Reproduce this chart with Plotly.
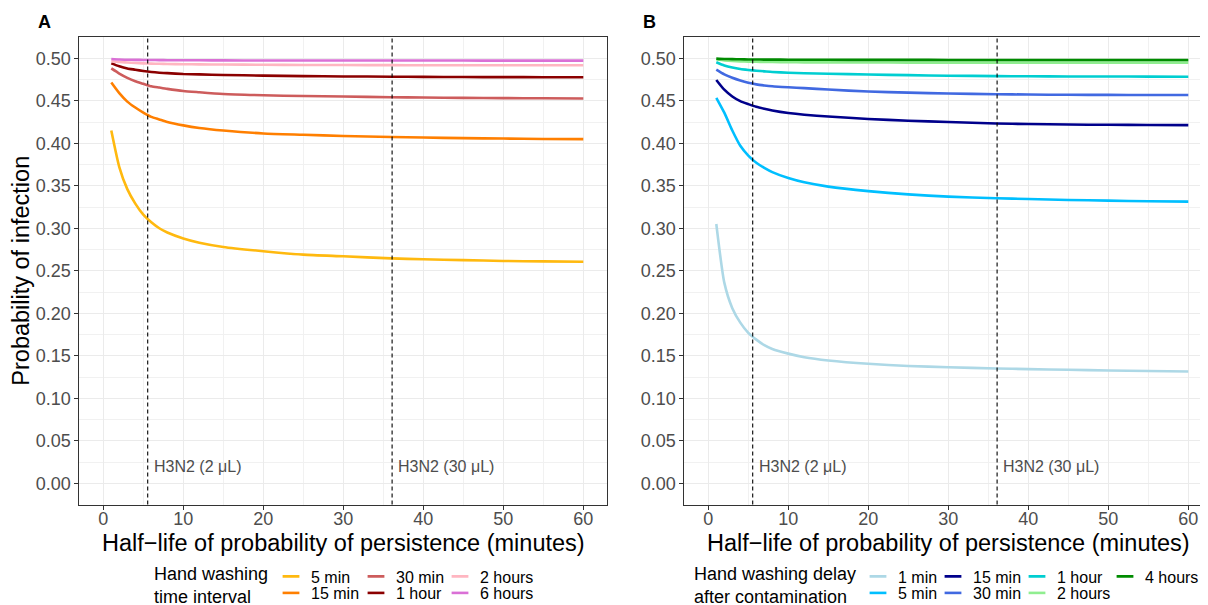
import plotly.graph_objects as go

# ---------------- data ----------------
half_life = [1, 2, 3, 4, 5, 6, 7, 8, 10, 12, 15, 20, 25, 30, 36, 40, 45, 50, 55, 60]

# Panel A: hand washing time interval
interval_labels = ["5 min", "15 min", "30 min", "1 hour", "2 hours", "6 hours"]
p_int_5min = [0.415, 0.372, 0.346, 0.329, 0.316, 0.307, 0.300, 0.295, 0.288, 0.283, 0.278, 0.273, 0.269, 0.267, 0.2645, 0.2635, 0.2625, 0.2615, 0.261, 0.2605]
p_int_15min = [0.4715, 0.459, 0.449, 0.442, 0.436, 0.431, 0.428, 0.425, 0.421, 0.418, 0.415, 0.4115, 0.410, 0.4085, 0.4073, 0.4067, 0.406, 0.4055, 0.405, 0.4048]
p_int_30min = [0.488, 0.482, 0.477, 0.473, 0.470, 0.467, 0.4655, 0.464, 0.4615, 0.460, 0.458, 0.4565, 0.4555, 0.455, 0.4542, 0.4538, 0.4534, 0.4531, 0.4529, 0.4527]
p_int_1h = [0.494, 0.4905, 0.488, 0.4865, 0.485, 0.4838, 0.483, 0.4825, 0.4815, 0.481, 0.4803, 0.4796, 0.479, 0.4786, 0.4783, 0.4781, 0.4779, 0.4778, 0.4777, 0.4776]
p_int_2h = [0.4965, 0.4955, 0.495, 0.4945, 0.494, 0.4937, 0.4935, 0.4933, 0.493, 0.4928, 0.4926, 0.4923, 0.4921, 0.492, 0.4919, 0.4918, 0.4918, 0.4917, 0.4917, 0.4917]
p_int_6h = [0.4992, 0.4986, 0.4983, 0.4981, 0.498, 0.4979, 0.4978, 0.4977, 0.4976, 0.4976, 0.4975, 0.4974, 0.4974, 0.4973, 0.4973, 0.4973, 0.4973, 0.4972, 0.4972, 0.4972]
interval_colors = ["#FFB90F", "#FF7F00", "#CD5C5C", "#8B0000", "#FFB6C1", "#DA70D6"]

# Panel B: hand washing delay after contamination
delay_labels = ["1 min", "5 min", "15 min", "30 min", "1 hour", "2 hours", "4 hours"]
p_del_1min = [0.305, 0.236, 0.206, 0.189, 0.177, 0.169, 0.1625, 0.158, 0.1525, 0.1483, 0.1445, 0.1405, 0.138, 0.1365, 0.135, 0.1343, 0.1335, 0.1327, 0.132, 0.1315]
p_del_5min = [0.4535, 0.436, 0.415, 0.397, 0.3855, 0.377, 0.371, 0.366, 0.359, 0.354, 0.349, 0.3437, 0.3398, 0.3372, 0.3353, 0.3344, 0.3333, 0.3325, 0.3318, 0.3313]
p_del_15min = [0.4745, 0.463, 0.455, 0.4495, 0.446, 0.4428, 0.4405, 0.4385, 0.4355, 0.4335, 0.4315, 0.4285, 0.4265, 0.425, 0.4233, 0.4226, 0.422, 0.4217, 0.4215, 0.4213]
p_del_30min = [0.4866, 0.481, 0.477, 0.4738, 0.4712, 0.4693, 0.468, 0.467, 0.4658, 0.4648, 0.4632, 0.4608, 0.4595, 0.4585, 0.4577, 0.4573, 0.457, 0.4569, 0.4568, 0.4567]
p_del_1h = [0.4953, 0.4915, 0.489, 0.4873, 0.4862, 0.4853, 0.4846, 0.4839, 0.483, 0.4824, 0.4818, 0.4808, 0.4801, 0.4795, 0.479, 0.4788, 0.4786, 0.4785, 0.4784, 0.4783]
p_del_2h = [0.4985, 0.4975, 0.4968, 0.4963, 0.496, 0.4958, 0.4956, 0.4955, 0.4953, 0.4952, 0.4951, 0.495, 0.4949, 0.4949, 0.4948, 0.4948, 0.4948, 0.4948, 0.4948, 0.4948]
p_del_4h = [0.4996, 0.4992, 0.499, 0.4988, 0.4986, 0.4985, 0.4984, 0.4984, 0.4983, 0.4982, 0.4982, 0.4981, 0.4981, 0.498, 0.498, 0.498, 0.498, 0.498, 0.498, 0.498]
delay_colors = ["#ADD8E6", "#00BFFF", "#00008B", "#4169E1", "#00CED1", "#90EE90", "#008B00"]

h3n2_half_life = [5.55, 36.1]
h3n2_labels = ["H3N2 (2 \u03bcL)", "H3N2 (30 \u03bcL)"]

y_ticks = [0.0, 0.05, 0.10, 0.15, 0.20, 0.25, 0.30, 0.35, 0.40, 0.45, 0.50]
x_ticks = [0, 10, 20, 30, 40, 50, 60]

x_title = "Half\u2212life of probability of persistence (minutes)"
y_title = "Probability of infection"
legend_titles = ["Hand washing<br>time interval", "Hand washing delay<br>after contamination"]

# ---------------- layout helpers ----------------
W, H = 1208, 605
OFF = 8  # page body margin offset (browser px)
FONT = "Liberation Sans, Arial, Helvetica, sans-serif"
px = lambda v: (v - OFF) / W
py = lambda v: 1 - (v - OFF) / H

interval_series = [p_int_5min, p_int_15min, p_int_30min, p_int_1h, p_int_2h, p_int_6h]
delay_series = [p_del_1min, p_del_5min, p_del_15min, p_del_30min, p_del_1h, p_del_2h, p_del_4h]

# legend text positions (px, target picture coords): columns, rows (column-major fill)
rows = [576.5, 593.0]
int_cols = [311, 396, 480]
del_cols = [898, 973, 1057, 1145]

fig = go.Figure()
legend_layouts = {}
n = 1

def add_panel(series, labels, colors, cols, xa, ya):
    global n
    for i, (vals, lab, col) in enumerate(zip(series, labels, colors)):
        n += 1
        lname = f"legend{n}"
        # the curve itself
        fig.add_trace(go.Scatter(
            x=half_life, y=vals, mode="lines", name=lab,
            line=dict(color=col, width=2.6, shape="spline", smoothing=0.6),
            xaxis=xa, yaxis=ya, showlegend=False, hoverinfo="skip",
        ))
        # legend key (short line symbol, no data points)
        fig.add_trace(go.Scatter(
            x=[None], y=[None], mode="markers", name=lab,
            marker=dict(symbol="line-ew", size=12, color=col, line=dict(color=col, width=2.6)),
            xaxis=xa, yaxis=ya, legend=lname, showlegend=True, hoverinfo="skip",
        ))
        cx = cols[i // 2]
        cy = rows[i % 2]
        legend_layouts[lname] = dict(
            x=px(cx - 40), y=py(cy), xanchor="left", yanchor="middle",
            bgcolor="rgba(0,0,0,0)", borderwidth=0, itemwidth=30,
            font=dict(family=FONT, size=16, color="black"),
        )

add_panel(interval_series, interval_labels, interval_colors, int_cols, "x", "y")
add_panel(delay_series, delay_labels, delay_colors, del_cols, "x2", "y2")

axis_common = dict(
    showgrid=True, gridcolor="#EBEBEB", gridwidth=1.1,
    zeroline=False, showline=True, mirror=True, linecolor="#333333", linewidth=1,
    ticks="outside", ticklen=4, tickcolor="#333333", tickwidth=1,
    tickfont=dict(family=FONT, size=18, color="#4D4D4D"),
)

ydom = [py(504.5), py(37)]
xaxis_cfg = lambda dom, rng: dict(
    axis_common, domain=dom, range=rng, tickvals=x_ticks, ticklabelstandoff=-6,
    minor=dict(dtick=5, tick0=0, showgrid=True, gridcolor="#F1F1F1", gridwidth=0.6),
)
yaxis_cfg = lambda anchor, title: dict(
    axis_common, domain=ydom, range=[-0.025, 0.525], tickvals=y_ticks, tickformat=".2f",
    anchor=anchor,
    minor=dict(dtick=0.025, tick0=0, showgrid=True, gridcolor="#F1F1F1", gridwidth=0.6),
    title=dict(text=title, font=dict(family=FONT, size=23.5, color="black"), standoff=0),
)

fig.update_layout(
    width=W, height=H,
    margin=dict(l=0, r=0, t=0, b=0, autoexpand=False),
    paper_bgcolor="white", plot_bgcolor="white",
    font=dict(family=FONT),
    showlegend=True,
    xaxis=dict(xaxis_cfg([px(79.3), px(607.3)], [-3, 63]), anchor="y"),
    xaxis2=dict(xaxis_cfg([px(684.3), px(1212.3)], [-3, 63]), anchor="y2"),
    yaxis=yaxis_cfg("x", y_title),
    yaxis2=yaxis_cfg("x2", None),
    **legend_layouts,
)

# vertical reference lines and labels
shapes = []
annotations = []
for xa, ya in [("x", "y"), ("x2", "y2")]:
    for hv, lab in zip(h3n2_half_life, h3n2_labels):
        shapes.append(dict(type="line", xref=xa, yref=f"{ya} domain", x0=hv, x1=hv, y0=0, y1=1,
                           line=dict(color="black", width=1.1, dash="4px,3px")))
        annotations.append(dict(x=hv, y=0.02, xref=xa, yref=ya, text=lab, showarrow=False,
                                xanchor="left", yanchor="middle", xshift=4,
                                font=dict(family=FONT, size=16, color="#4D4D4D")))
    # x axis title, centred under each panel
    annotations.append(dict(x=0.5, y=py(542.5), xref=f"{xa} domain", yref="paper", text=x_title,
                            showarrow=False, xanchor="center", yanchor="middle", borderpad=0,
                            font=dict(family=FONT, size=23.5, color="black")))

# panel tags
for tag, xp in [("A", 36), ("B", 641)]:
    annotations.append(dict(x=px(xp), y=py(22), xref="paper", yref="paper", text=f"<b>{tag}</b>",
                            showarrow=False, xanchor="left", yanchor="middle",
                            font=dict(family=FONT, size=18, color="black")))

# legend titles (two lines each)
for txt, xp in zip(legend_titles, [153, 693]):
    annotations.append(dict(x=px(xp), y=py(585), xref="paper", yref="paper", text=txt,
                            showarrow=False, xanchor="left", yanchor="middle", align="left",
                            borderpad=0, font=dict(family=FONT, size=18, color="black")))

fig.update_layout(shapes=shapes, annotations=annotations)
fig.write_html("out.html")
